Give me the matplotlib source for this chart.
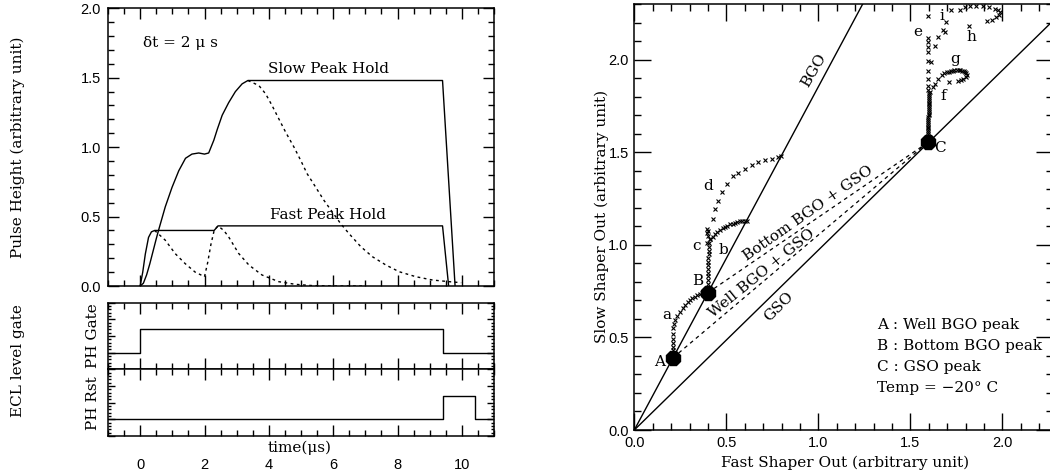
import matplotlib
matplotlib.use("Agg")
import matplotlib.pyplot as plt
from matplotlib.ticker import MultipleLocator, FormatStrFormatter, NullFormatter

# ---------------- data: left panel (time in microseconds) ----------------
slow_hold_t = [0.0, 0.1, 0.2, 0.3, 0.4, 0.5, 0.57, 0.78, 0.99, 1.2, 1.41, 1.61, 1.82,
               2.0, 2.13, 2.29, 2.4, 2.55, 2.75, 2.96, 3.17, 3.35, 9.40, 9.79]
slow_hold_v = [0.0, 0.02, 0.08, 0.16, 0.25, 0.34, 0.40, 0.57, 0.71, 0.83, 0.92, 0.95, 0.958,
               0.95, 0.958, 1.05, 1.13, 1.23, 1.32, 1.40, 1.456, 1.48, 1.48, 0.0]

slow_shaper_t = [3.35, 3.69, 3.90, 4.10, 4.31, 4.52, 4.78, 4.99, 5.19, 5.45, 5.71, 5.97,
                 6.23, 6.49, 6.86, 7.22, 7.64, 8.05, 8.57, 9.09, 9.61, 9.98]
slow_shaper_v = [1.48, 1.444, 1.384, 1.300, 1.204, 1.109, 1.001, 0.905, 0.809, 0.714, 0.618,
                 0.534, 0.450, 0.378, 0.283, 0.211, 0.151, 0.103, 0.067, 0.043, 0.031, 0.024]

fast_hold_t = [0.0, 0.08, 0.16, 0.26, 0.35, 0.45, 2.30, 2.42, 9.40, 9.59]
fast_hold_v = [0.0, 0.10, 0.23, 0.35, 0.39, 0.40, 0.40, 0.433, 0.433, 0.0]

fast_shaper_t = [0.45, 0.78, 1.09, 1.40, 1.71, 2.0, 2.1, 2.2, 2.3, 2.42, 2.6, 2.75, 3.06,
                 3.38, 3.79, 4.31, 4.83, 5.35, 6.0, 7.0]
fast_shaper_v = [0.40, 0.33, 0.233, 0.161, 0.10, 0.067, 0.17, 0.30, 0.40, 0.433, 0.40, 0.354,
                 0.235, 0.151, 0.079, 0.031, 0.012, 0.003, 0.0, 0.0]

gate_t = [-1.0, 0.0, 9.4, 11.0]
gate_level = [1.0, 2.4, 1.0, 1.0]
rst_t = [-1.0, 9.4, 10.4, 11.0]
rst_level = [1.0, 2.4, 1.0, 1.0]

time_ticks = [0, 2, 4, 6, 8, 10]

# ---------------- data: right panel ----------------
peak_x = [0.21, 0.40, 1.595]
peak_y = [0.39, 0.742, 1.554]
peak_names = ["A", "B", "C"]

traj_a_x = [0.21, 0.21, 0.21, 0.211, 0.212, 0.212, 0.213, 0.215, 0.222, 0.234, 0.248, 0.262,
            0.276, 0.29, 0.303, 0.316, 0.33, 0.343, 0.357, 0.37, 0.383]
traj_a_y = [0.41, 0.43, 0.45, 0.47, 0.49, 0.52, 0.55, 0.575, 0.595, 0.614, 0.64, 0.66,
            0.677, 0.692, 0.705, 0.713, 0.72, 0.728, 0.735, 0.74, 0.745]

traj_c_x = [0.40, 0.40, 0.40, 0.401, 0.401, 0.402, 0.402, 0.403, 0.403, 0.404, 0.404, 0.405,
            0.406, 0.393, 0.41, 0.402, 0.393, 0.397]
traj_c_y = [0.77, 0.79, 0.81, 0.83, 0.85, 0.87, 0.89, 0.91, 0.93, 0.95, 0.97, 0.99,
            1.01, 1.012, 1.03, 1.048, 1.084, 1.066]

traj_b_x = [0.411, 0.425, 0.439, 0.452, 0.466, 0.48, 0.493, 0.506, 0.52, 0.534, 0.547,
            0.56, 0.574, 0.588, 0.602, 0.61]
traj_b_y = [1.03, 1.045, 1.057, 1.069, 1.08, 1.09, 1.099, 1.105, 1.111, 1.116, 1.12,
            1.124, 1.127, 1.129, 1.131, 1.132]

traj_d_x = [0.402, 0.43, 0.439, 0.457, 0.475, 0.502, 0.535, 0.565, 0.602, 0.638, 0.674,
            0.710, 0.747, 0.783, 0.795]
traj_d_y = [1.075, 1.142, 1.192, 1.237, 1.286, 1.332, 1.373, 1.391, 1.413, 1.431, 1.446,
            1.458, 1.467, 1.478, 1.48]

traj_e_x = [1.595, 1.595, 1.595, 1.596, 1.596, 1.596, 1.597, 1.597, 1.597, 1.598, 1.598,
            1.598, 1.598, 1.599, 1.599, 1.599, 1.6, 1.6, 1.6, 1.6, 1.6, 1.6, 1.6, 1.6,
            1.6, 1.6, 1.598, 1.596, 1.595, 1.595, 1.595, 1.595, 1.595, 1.595, 1.595, 1.595]
traj_e_y = [1.57, 1.58, 1.59, 1.60, 1.61, 1.62, 1.63, 1.64, 1.65, 1.66, 1.67,
            1.68, 1.69, 1.70, 1.71, 1.72, 1.73, 1.74, 1.75, 1.76, 1.77, 1.78, 1.79, 1.80,
            1.81, 1.82, 1.84, 1.86, 1.897, 1.942, 1.996, 2.042, 2.069, 2.096, 2.118, 2.24]

traj_fg_x = [1.607, 1.622, 1.634, 1.652, 1.671, 1.685, 1.698, 1.71, 1.72, 1.73, 1.74, 1.752,
             1.762, 1.771, 1.779, 1.79, 1.798, 1.803, 1.806, 1.8, 1.788, 1.775, 1.761, 1.712]
traj_fg_y = [1.825, 1.852, 1.870, 1.897, 1.919, 1.927, 1.933, 1.937, 1.940, 1.943, 1.945, 1.946,
             1.946, 1.944, 1.942, 1.938, 1.934, 1.928, 1.918, 1.907, 1.897, 1.892, 1.888, 1.879]

traj_hi_x = [1.612, 1.634, 1.652, 1.678, 1.689, 1.694, 1.721, 1.770, 1.797, 1.824, 1.857,
             1.893, 1.929, 1.960, 1.975, 1.988, 1.983, 1.966, 1.942, 1.918, 1.821]
traj_hi_y = [1.987, 2.077, 2.123, 2.163, 2.153, 2.204, 2.271, 2.271, 2.285, 2.29, 2.294,
             2.294, 2.285, 2.276, 2.268, 2.258, 2.245, 2.231, 2.218, 2.210, 2.186]

traj_names = ["a", "b", "c", "d", "e", "f", "g", "h", "i"]
traj_name_x = [0.179, 0.484, 0.339, 0.399, 1.543, 1.679, 1.743, 1.834, 1.670]
traj_name_y = [0.623, 0.972, 0.997, 1.319, 2.150, 1.807, 2.005, 2.123, 2.240]

bgo_slope = 1.855
gso_slope = 0.972

legend_lines = ["A : Well BGO peak", "B : Bottom BGO peak", "C : GSO peak", "Temp = \u221220\u00b0 C"]

# ---------------- figure ----------------
plt.rcParams["font.family"] = ["DejaVu Serif"]
W, H = 1050.0, 476.0


def rect(l, t, r, b):
    return [l / W, 1 - b / H, (r - l) / W, (b - t) / H]


fig = plt.figure(figsize=(10.5, 4.76), dpi=100)
TICKFONT = dict(family="Liberation Sans", size=10.5)
LW = 1.0

ax1 = fig.add_axes(rect(108, 8.3, 494, 286))
ax2 = fig.add_axes(rect(108, 302.7, 494, 369.3))
ax3 = fig.add_axes(rect(108, 369.3, 494, 436))
ax4 = fig.add_axes(rect(634.3, 4.3, 1053, 430))

for ax in (ax1, ax2, ax3, ax4):
    for s in ax.spines.values():
        s.set_linewidth(1.1)

# ---- top-left: pulse heights ----
ax1.plot(slow_hold_t, slow_hold_v, color="black", lw=LW)
ax1.plot(fast_hold_t, fast_hold_v, color="black", lw=LW)
ax1.plot(slow_shaper_t, slow_shaper_v, color="black", lw=LW, ls=(0, (2, 2.5)))
ax1.plot(fast_shaper_t, fast_shaper_v, color="black", lw=LW, ls=(0, (2, 2.5)))
ax1.set_xlim(-1, 11)
ax1.set_ylim(0, 2.0)
ax1.xaxis.set_major_locator(MultipleLocator(2))
ax1.xaxis.set_minor_locator(MultipleLocator(0.5))
ax1.yaxis.set_major_locator(MultipleLocator(0.5))
ax1.yaxis.set_minor_locator(MultipleLocator(0.1))
ax1.yaxis.set_major_formatter(FormatStrFormatter("%.1f"))
ax1.xaxis.set_major_formatter(NullFormatter())
ax1.tick_params(which="both", direction="in", top=True, right=True, width=1.0)
ax1.tick_params(which="major", length=8, pad=5)
ax1.tick_params(which="minor", length=4)
for lab in ax1.get_yticklabels():
    lab.set_fontfamily(TICKFONT["family"]); lab.set_fontsize(TICKFONT["size"])
ax1.text(0.09, 1.747, "\u03b4t = 2 \u03bc s", ha="left", va="center", fontsize=11)
ax1.text(5.85, 1.56, "Slow Peak Hold", ha="center", va="center", fontsize=11)
ax1.text(5.85, 0.51, "Fast Peak Hold", ha="center", va="center", fontsize=11)

# ---- bottom-left: logic levels ----
for ax, tt, lv in ((ax2, gate_t, gate_level), (ax3, rst_t, rst_level)):
    ax.step(tt, lv, where="post", color="black", lw=LW)
    ax.set_xlim(-1, 11)
    ax.set_ylim(0, 4)
    ax.xaxis.set_major_locator(MultipleLocator(2))
    ax.xaxis.set_minor_locator(MultipleLocator(0.5))
    ax.yaxis.set_major_locator(MultipleLocator(1))
    ax.yaxis.set_minor_locator(MultipleLocator(0.2))
    ax.yaxis.set_major_formatter(NullFormatter())
    ax.tick_params(which="both", direction="in", top=True, right=True, width=1.0)
    ax.tick_params(axis="x", which="major", length=8)
    ax.tick_params(axis="x", which="minor", length=4)
    ax.tick_params(axis="y", which="major", length=5)
    ax.tick_params(axis="y", which="minor", length=2.5)
ax2.xaxis.set_major_formatter(NullFormatter())
ax3.set_xticks(time_ticks)
ax3.set_xticklabels([str(v) for v in time_ticks], fontfamily=TICKFONT["family"],
                    fontsize=TICKFONT["size"])
ax3.tick_params(axis="x", which="major", pad=16)

fig.text(18 / W, 1 - 147 / H, "Pulse Height (arbitrary unit)", rotation=90,
         ha="center", va="center", fontsize=11)
fig.text(18 / W, 1 - 361 / H, "ECL level gate", rotation=90, ha="center", va="center",
         fontsize=11)
fig.text(93 / W, 1 - 336 / H, "PH Gate", rotation=90, ha="center", va="center", fontsize=11)
fig.text(93 / W, 1 - 403 / H, "PH Rst", rotation=90, ha="center", va="center", fontsize=11)
fig.text(300 / W, 1 - 448 / H, "time(\u03bcs)", ha="center", va="center", fontsize=11)

# ---- right panel ----
xmax, ymax = 2.2755, 2.301
ax4.set_xlim(0, xmax)
ax4.set_ylim(0, ymax)
ax4.plot([0, xmax], [0, bgo_slope * xmax], color="black", lw=LW)
ax4.plot([0, xmax], [0, gso_slope * xmax], color="black", lw=LW)
for i in (0, 1):
    ax4.plot([peak_x[i], peak_x[2]], [peak_y[i], peak_y[2]], color="black", lw=0.9,
             ls=(0, (3, 3)))
for tx, ty in ((traj_a_x, traj_a_y), (traj_c_x, traj_c_y), (traj_b_x, traj_b_y),
               (traj_d_x, traj_d_y), (traj_e_x, traj_e_y), (traj_fg_x, traj_fg_y),
               (traj_hi_x, traj_hi_y)):
    ax4.plot(tx, ty, ls="none", marker="x", ms=3, mew=0.8, color="black")
ax4.plot(peak_x, peak_y, ls="none", marker="8", ms=11, color="black")
ax4.text(peak_x[0] - 0.075, peak_y[0] - 0.025, peak_names[0], ha="center", va="center", fontsize=11)
ax4.text(peak_x[1] - 0.058, peak_y[1] + 0.062, peak_names[1], ha="center", va="center", fontsize=11)
ax4.text(peak_x[2] + 0.066, peak_y[2] - 0.031, peak_names[2], ha="center", va="center", fontsize=11)
for n, x, y in zip(traj_names, traj_name_x, traj_name_y):
    ax4.text(x, y, n, ha="center", va="center", fontsize=11)

ax4.text(0.976, 1.942, "BGO", rotation=60, ha="center", va="center", rotation_mode="anchor", fontsize=11)
ax4.text(0.786, 0.668, "GSO", rotation=45, ha="center", va="center", rotation_mode="anchor", fontsize=11)
ax4.text(0.692, 0.845, "Well BGO + GSO", rotation=39, ha="center", va="center",
         rotation_mode="anchor", fontsize=11)
ax4.text(0.943, 1.171, "Bottom BGO + GSO", rotation=35, ha="center", va="center",
         rotation_mode="anchor", fontsize=11)
for k, line in enumerate(legend_lines):
    ax4.text(1.32, 0.569 - 0.1145 * k, line, ha="left", va="center", fontsize=11)

ax4.xaxis.set_major_locator(MultipleLocator(0.5))
ax4.xaxis.set_minor_locator(MultipleLocator(0.1))
ax4.yaxis.set_major_locator(MultipleLocator(0.5))
ax4.yaxis.set_minor_locator(MultipleLocator(0.1))
ax4.xaxis.set_major_formatter(FormatStrFormatter("%.1f"))
ax4.yaxis.set_major_formatter(FormatStrFormatter("%.1f"))
ax4.tick_params(which="both", direction="in", top=True, right=True, width=1.0)
ax4.tick_params(which="major", length=12, pad=4)
ax4.tick_params(which="minor", length=5)
for lab in ax4.get_xticklabels() + ax4.get_yticklabels():
    lab.set_fontfamily(TICKFONT["family"]); lab.set_fontsize(TICKFONT["size"])
fig.text(845 / W, 1 - 463 / H, "Fast Shaper Out (arbitrary unit)", ha="center", va="center",
         fontsize=11)
fig.text(602 / W, 1 - 216 / H, "Slow Shaper Out (arbitrary unit)", rotation=90,
         ha="center", va="center", fontsize=11)

fig.savefig("out.png", dpi=100)
